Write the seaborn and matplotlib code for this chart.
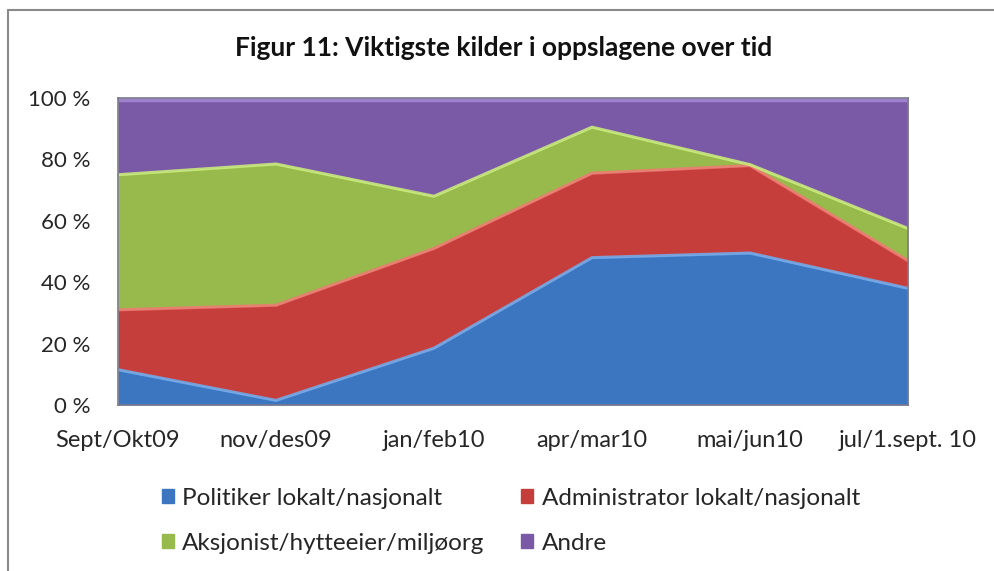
import numpy as np
import pandas as pd
import matplotlib
matplotlib.use("Agg")
import matplotlib.pyplot as plt
import seaborn as sns
from matplotlib.patches import Patch
from matplotlib.lines import Line2D

categories = ["Sept/Okt09", "nov/des09", "jan/feb10", "apr/mar10", "mai/jun10", "jul/1.sept. 10"]
politiker = [11.5, 1.5, 18.5, 48.0, 49.5, 38.0]
administrator = [19.5, 31.0, 32.5, 27.5, 28.5, 9.0]
aksjonist = [44.0, 46.0, 17.0, 15.0, 0.3, 10.5]
andre = [25.0, 21.5, 32.0, 9.5, 21.7, 42.5]
series_names = ["Politiker lokalt/nasjonalt", "Administrator lokalt/nasjonalt",
                "Aksjonist/hytteeier/miljøorg", "Andre"]
yticks = [0, 20, 40, 60, 80, 100]
ytick_labels = ["0 %", "20 %", "40 %", "60 %", "80 %", "100 %"]
title = "Figur 11: Viktigste kilder i oppslagene over tid"

colors = ["#3d76c0", "#c63e3c", "#98b94c", "#7a5aa6"]
edge_colors = ["#6fb0f2", "#f07a74", "#cdf27a", "#a88ad6"]

sns.set_theme(style="white")
plt.rcParams["font.family"] = ["Lato", "DejaVu Sans"]

fig = plt.figure(figsize=(9.94, 5.71), dpi=100)
ax = fig.add_axes([118/994, 1-405/571, 790/994, 307/571])

x = np.arange(len(categories))
data = [politiker, administrator, aksjonist, andre]
total = np.sum(data, axis=0)
pct = [np.array(s) / total * 100 for s in data]

ax.stackplot(x, *pct, colors=colors, linewidth=0)

# bevel-like highlight lines along the top edge of each layer
cum = np.cumsum(pct, axis=0)
df_edges = pd.DataFrame({
    "x": np.tile(x, 3),
    "y": np.concatenate([cum[0], cum[1], cum[2]]),
    "layer": np.repeat(series_names[:3], len(x)),
})
sns.lineplot(data=df_edges, x="x", y="y", hue="layer", palette=edge_colors[:3],
             ax=ax, legend=False, linewidth=2.2, alpha=0.85)
sns.lineplot(x=x, y=cum[3] - 0.8, ax=ax, color=edge_colors[3], linewidth=2.5,
             alpha=0.8, legend=False)
if ax.get_legend() is not None:
    ax.get_legend().remove()

ax.set_xlim(0, len(categories) - 1)
ax.set_ylim(0, 100)
ax.set_yticks(yticks)
ax.set_yticklabels(ytick_labels, fontsize=16)
ax.set_xticks(x)
ax.set_xticklabels(categories, fontsize=17)
ax.tick_params(axis="x", pad=18, length=0)
ax.tick_params(axis="y", pad=20, length=0)
ax.set_xlabel("")
ax.set_ylabel("")
for s in ax.spines.values():
    s.set_visible(True)
    s.set_color("#7a7a8a")
    s.set_linewidth(1.2)

fig.text(504/994, 1-48/571, title, ha="center", va="center",
         fontsize=19, fontweight="bold", color="#111111")

# legend filled row-wise like the reference
order = [0, 2, 1, 3]
handles = [Patch(facecolor=colors[i], edgecolor=colors[i]) for i in order]
labels = [series_names[i] for i in order]
fig.legend(handles, labels, loc="upper left",
           bbox_to_anchor=(152/994, 1-478/571), ncol=2, frameon=False,
           fontsize=17.5, handlelength=0.5, handleheight=0.5, handletextpad=0.35,
           labelspacing=1.0, columnspacing=1.5, borderaxespad=0)

# outer chart border (top and left visible)
fig.add_artist(Line2D([8/994, 8/994], [0, 1-10/571], transform=fig.transFigure,
                      color="#8a8a8a", linewidth=1.5))
fig.add_artist(Line2D([8/994, 1], [1-10/571, 1-10/571], transform=fig.transFigure,
                      color="#8a8a8a", linewidth=1.5))

fig.savefig("out.png", dpi=100)
